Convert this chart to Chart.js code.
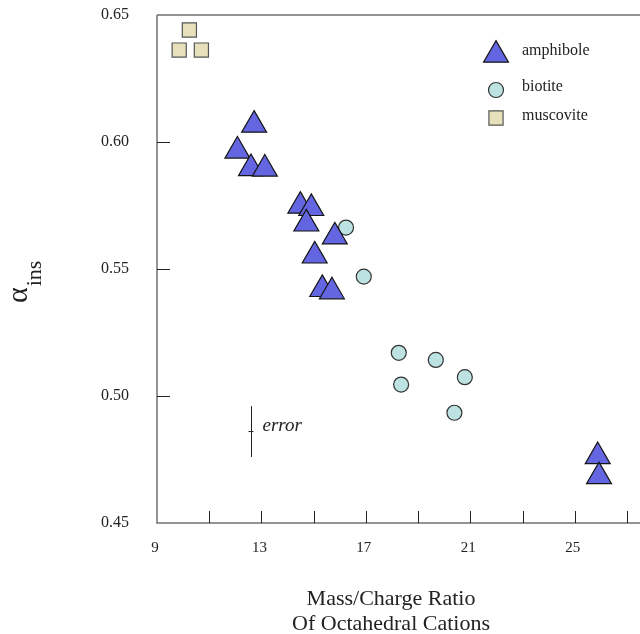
<!DOCTYPE html>
<html>
<head>
<meta charset="utf-8">
<script src="https://cdn.jsdelivr.net/npm/chart.js@4/dist/chart.umd.min.js"></script>
<style>
  html, body { margin: 0; padding: 0; background: #fff; }
  canvas { display: block; }
</style>
</head>
<body>
<canvas id="chart" width="640" height="634"></canvas>
<script>
// values
const amphiboleX = [12.72, 12.08, 12.60, 13.13, 14.49, 14.91, 14.72, 15.81, 15.04, 15.33, 15.70, 25.88, 25.93];
const amphiboleY = [0.6067, 0.5965, 0.5896, 0.5894, 0.5748, 0.5739, 0.5678, 0.5627, 0.5552, 0.5420, 0.5411, 0.4762, 0.4683];
const biotiteX = [16.24, 16.92, 18.26, 19.68, 18.35, 20.79, 20.39];
const biotiteY = [0.5663, 0.5470, 0.5170, 0.5142, 0.5045, 0.5074, 0.4934];
const muscoviteX = [10.24, 9.85, 10.70];
const muscoviteY = [0.6441, 0.6362, 0.6362];

const xTickValues = [9, 11, 13, 15, 17, 19, 21, 23, 25, 27];
const xLabelValues = [9, 13, 17, 21, 25];
const yTickValues = [0.45, 0.50, 0.55, 0.60, 0.65];

// error bar shown in the plot
const errorX = 12.6;
const errorY = 0.486;
const errorHalf = 0.01;

const SERIF = "'Liberation Serif', 'Times New Roman', serif";

const pts = (xs, ys) => xs.map((x, i) => ({ x, y: ys[i] }));

const series = [
  { label: "amphibole", data: pts(amphiboleX, amphiboleY), pointStyle: "triangle", pointRadius: 14.4,
    backgroundColor: "#6366e0", borderColor: "#151515", borderWidth: 1.2 },
  { label: "biotite", data: pts(biotiteX, biotiteY), pointStyle: "circle", pointRadius: 7.5,
    backgroundColor: "#bde2e2", borderColor: "#333", borderWidth: 1.2 },
  { label: "muscovite", data: pts(muscoviteX, muscoviteY), pointStyle: "rect", pointRadius: 10,
    backgroundColor: "#e6e0bb", borderColor: "#555", borderWidth: 1.2 },
];

// frame, inside ticks, legend, error bar and axis titles
const decor = {
  id: "decor",
  beforeDatasetsDraw(chart) {
    const { ctx, chartArea: a, scales: { x, y } } = chart;
    ctx.save();
    ctx.strokeStyle = "#707070";
    ctx.lineWidth = 1.5;
    ctx.beginPath();
    ctx.moveTo(a.left, a.top); ctx.lineTo(chart.width, a.top);
    ctx.moveTo(a.left, a.top); ctx.lineTo(a.left, a.bottom); ctx.lineTo(chart.width, a.bottom);
    ctx.stroke();
    ctx.strokeStyle = "#222";
    ctx.lineWidth = 1;
    ctx.beginPath();
    x.ticks.forEach(t => {
      if (t.value <= x.min) return;
      const px = Math.round(x.getPixelForValue(t.value)) + 0.5;
      ctx.moveTo(px, a.bottom); ctx.lineTo(px, a.bottom - 12);
    });
    y.ticks.forEach(t => {
      if (t.value <= y.min + 1e-9 || t.value >= y.max - 1e-9) return;
      const py = Math.round(y.getPixelForValue(t.value)) + 0.5;
      ctx.moveTo(a.left, py); ctx.lineTo(a.left + 13, py);
    });
    ctx.stroke();
    ctx.restore();
  },
  afterDatasetsDraw(chart) {
    const { ctx, scales: { x, y } } = chart;
    ctx.save();

    // error bar
    const ex = Math.round(x.getPixelForValue(errorX)) + 0.5;
    const ey = y.getPixelForValue(errorY);
    ctx.strokeStyle = "#222";
    ctx.lineWidth = 1;
    ctx.beginPath();
    ctx.moveTo(ex, y.getPixelForValue(errorY + errorHalf));
    ctx.lineTo(ex, y.getPixelForValue(errorY - errorHalf));
    ctx.moveTo(ex - 3, ey); ctx.lineTo(ex + 2, ey);
    ctx.stroke();
    ctx.fillStyle = "#222";
    ctx.font = "italic 19px " + SERIF;
    ctx.textBaseline = "middle";
    ctx.textAlign = "left";
    ctx.fillText("error", ex + 11, ey - 6);

    // legend
    const rows = [[55, 51], [90, 87], [118, 116]];
    series.forEach((s, i) => {
      ctx.fillStyle = s.backgroundColor;
      ctx.strokeStyle = s.borderColor;
      ctx.lineWidth = s.borderWidth;
      Chart.helpers.drawPoint(ctx, { pointStyle: s.pointStyle, radius: s.pointRadius, rotation: 0, borderWidth: s.borderWidth }, 496, rows[i][0]);
      ctx.fillStyle = "#222";
      ctx.font = "16px " + SERIF;
      ctx.fillText(s.label, 522, rows[i][1]);
    });

    // x axis title
    ctx.textAlign = "center";
    ctx.textBaseline = "alphabetic";
    ctx.font = "22px " + SERIF;
    ctx.fillText("Mass/Charge Ratio", 391, 605);
    ctx.fillText("Of Octahedral Cations", 391, 630);

    // y axis title, rotated
    ctx.translate(27, 303);
    ctx.rotate(-Math.PI / 2);
    ctx.textAlign = "left";
    ctx.font = "30px " + SERIF;
    ctx.fillText("α", 0, 0);
    const w = ctx.measureText("α").width;
    ctx.font = "22px " + SERIF;
    ctx.fillText("ins", w + 1, 14);
    ctx.restore();
  }
};

new Chart(document.getElementById("chart"), {
  type: "scatter",
  data: {
    datasets: series.map(s => ({
      label: s.label, data: s.data, pointStyle: s.pointStyle,
      pointRadius: s.pointRadius, pointHoverRadius: s.pointRadius,
      backgroundColor: s.backgroundColor, borderColor: s.borderColor,
      borderWidth: s.borderWidth, pointHoverBorderWidth: s.borderWidth, clip: false,
    }))
  },
  options: {
    responsive: false,
    animation: false,
    events: [],
    layout: { autoPadding: false, padding: { top: 15, right: 0, left: 0, bottom: 0 } },
    plugins: { legend: { display: false }, tooltip: { enabled: false } },
    scales: {
      x: {
        type: "linear", position: "bottom", min: 9, max: 27.5,
        grid: { display: false }, border: { display: false },
        afterBuildTicks: s => { s.ticks = xTickValues.map(v => ({ value: v })); },
        afterFit: s => { s.height = 111; s.paddingLeft = 0; s.paddingRight = 0; },
        ticks: {
          autoSkip: false, maxRotation: 0, padding: 8, labelOffset: -2,
          color: "#222", font: { family: SERIF, size: 15 },
          callback: v => xLabelValues.includes(v) ? String(v) : ""
        }
      },
      y: {
        type: "linear", min: yTickValues[0], max: yTickValues[yTickValues.length - 1],
        grid: { display: false }, border: { display: false },
        afterBuildTicks: s => { s.ticks = yTickValues.map(v => ({ value: v })); },
        afterFit: s => { s.width = 157; s.paddingTop = 0; s.paddingBottom = 0; },
        ticks: {
          padding: 20, color: "#222", font: { family: SERIF, size: 16 },
          callback: v => Number(v).toFixed(2)
        }
      }
    }
  },
  plugins: [decor]
});
</script>
</body>
</html>
